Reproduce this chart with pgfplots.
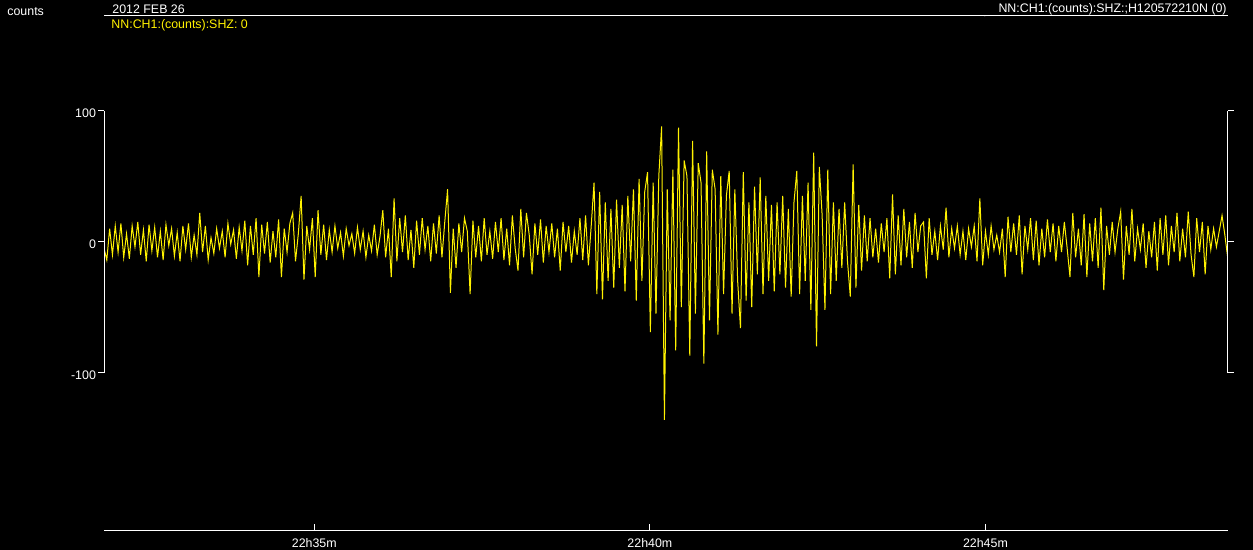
\documentclass[border=0pt]{standalone}
\usepackage{pgfplots}
\usepackage{pgfplotstable}
\pgfplotsset{compat=1.18}
\usepackage{fontspec}
\setmainfont{Liberation Sans}
\pgfplotstableread[header=false,row sep=\\]{
-5\\ -14\\ 10\\ -10\\ 12\\ -8\\ 14\\ -12\\ 6\\ -13\\ 12\\ -4\\ 15\\ -10\\ 9\\ -15\\ 13\\ -7\\ 11\\ -12\\
8\\ -14\\ 13\\ -3\\ 10\\ -11\\ 7\\ -15\\ 12\\ -6\\ 14\\ -12\\ 5\\ -10\\ 22\\ -8\\ 12\\ -14\\ 3\\ -9\\
10\\ -5\\ 8\\ -12\\ 14\\ -2\\ 9\\ -13\\ 11\\ -7\\ 16\\ -18\\ 12\\ -10\\ 18\\ -27\\ 13\\ -9\\ 15\\ -16\\
8\\ -12\\ 17\\ -27\\ 10\\ -8\\ 14\\ 22\\ -15\\ 6\\ 35\\ -29\\ 12\\ -6\\ 18\\ -27\\ 24\\ -10\\ 13\\ -14\\
9\\ -8\\ 12\\ -5\\ 7\\ -11\\ 10\\ -3\\ 6\\ -9\\ 11\\ -6\\ 8\\ -12\\ 5\\ -7\\ 13\\ -10\\ 4\\ 24\\
-12\\ 10\\ -27\\ 33\\ -15\\ 18\\ -8\\ 20\\ -14\\ 9\\ -20\\ 16\\ -10\\ 18\\ -6\\ 12\\ -15\\ 14\\ -9\\ 20\\
-12\\ 15\\ 40\\ -39\\ 10\\ -20\\ 14\\ -8\\ 18\\ 8\\ -40\\ 16\\ -12\\ 12\\ -15\\ 18\\ -10\\ 8\\ -13\\ 15\\
-8\\ 18\\ -14\\ 10\\ -18\\ 20\\ -5\\ -22\\ 25\\ -12\\ 22\\ 5\\ -25\\ 14\\ -10\\ 17\\ -16\\ 12\\ -8\\ 14\\
-12\\ 10\\ -22\\ 15\\ -8\\ 12\\ -16\\ 8\\ -10\\ 18\\ -14\\ 20\\ -18\\ 12\\ 45\\ -40\\ 38\\ -44\\ 30\\ -30\\
25\\ -35\\ 32\\ -20\\ 28\\ -38\\ 35\\ -15\\ 40\\ -45\\ 48\\ -30\\ 38\\ 53\\ -69\\ 45\\ -55\\ 50\\ 88\\ -136\\
40\\ -60\\ 55\\ -83\\ 87\\ -50\\ 62\\ 50\\ -87\\ 77\\ -55\\ 60\\ 45\\ -93\\ 69\\ -60\\ 55\\ 40\\ -71\\ 50\\
-40\\ 35\\ 54\\ -55\\ 40\\ -30\\ -66\\ 53\\ -45\\ 30\\ -50\\ 42\\ -25\\ 49\\ -40\\ 35\\ -30\\ 28\\ -38\\ 30\\
-25\\ 35\\ -35\\ 25\\ -42\\ 30\\ 54\\ -40\\ 35\\ -30\\ 45\\ -52\\ 68\\ -80\\ 57\\ 20\\ -52\\ 55\\ -40\\ 30\\
-30\\ 25\\ -20\\ 30\\ -15\\ -42\\ 59\\ -35\\ 28\\ -22\\ 20\\ -15\\ 18\\ -12\\ 10\\ -16\\ 14\\ -8\\ 18\\ -28\\
36\\ -25\\ 20\\ -18\\ 25\\ -12\\ 15\\ -20\\ 22\\ -8\\ 12\\ 15\\ -28\\ 18\\ -10\\ 8\\ -14\\ 12\\ -6\\ 26\\
-12\\ 10\\ -5\\ 12\\ -10\\ 8\\ -14\\ 10\\ -4\\ 12\\ -15\\ 33\\ -18\\ 8\\ -10\\ 12\\ -6\\ 5\\ -8\\ 10\\
-27\\ 19\\ -8\\ 14\\ -10\\ 20\\ -25\\ 12\\ -6\\ 18\\ -14\\ 16\\ -18\\ 10\\ -12\\ 17\\ -8\\ 14\\ -15\\ 12\\
-8\\ 15\\ -5\\ -27\\ 22\\ -12\\ 10\\ -18\\ 21\\ -27\\ 14\\ -15\\ 18\\ -20\\ 26\\ -37\\ 12\\ -10\\ 15\\ -8\\
10\\ 23\\ -29\\ 12\\ -10\\ 25\\ -15\\ 10\\ -6\\ 14\\ -20\\ 8\\ -12\\ 15\\ -22\\ 18\\ -10\\ 20\\ -18\\ 12\\
-8\\ 22\\ -15\\ 10\\ -12\\ 23\\ -10\\ -27\\ 18\\ -8\\ 15\\ -25\\ 12\\ -6\\ 10\\ -4\\ 8\\ 20\\ 5\\ -12\\
}\trace
\begin{document}
\begin{tikzpicture}[x=1pt,y=1pt]
\fill[black] (0,0) rectangle (626.5,275);
\useasboundingbox (0,0) rectangle (626.5,275);
\begin{axis}[at={(52pt,9.85pt)}, anchor=south west, scale only axis,
  width=561.75pt, height=257.3pt,
  xmin=31.866, xmax=48.607, ymin=-220.3, ymax=172.5,
  separate axis lines, axis x line=box, axis y line=none,
  xtick={35,40,45}, xticklabels={22h35m,22h40m,22h45m},
  xtick pos=left, tick align=inside, major tick length=3pt, ytick=\empty,
  axis line style={white, line width=0.5pt},
  tick style={white, line width=0.5pt},
  xticklabel style={text=white, font=\fontsize{6.2}{7}\selectfont, yshift=-0.6pt}]
\addplot[yellow, line width=0.5pt, line join=miter] table[x expr={31.866+0.041964*\coordindex}, y index=0] {\trace};
\draw[white, line width=0.5pt] (axis cs:45,172.5) -- ++(0,-1.7pt);
\draw[white, line width=0.5pt] (axis cs:31.866,172.5) -- ++(0,1.8pt);
\end{axis}
\begin{axis}[at={(52pt,88.65pt)}, anchor=south west, scale only axis,
  width=561.75pt, height=131pt,
  xmin=0, xmax=1, ymin=-100, ymax=100,
  separate axis lines, axis x line=none, axis y line=box,
  ytick={-100,0,100}, yticklabels={-100,0,100}, xtick=\empty, ytick pos=both, yticklabel pos=left,
  tick align=outside, major tick length=3pt,
  axis line style={white, line width=0.5pt},
  tick style={white, line width=0.5pt},
  yticklabel style={text=white, font=\fontsize{6.2}{7}\selectfont, xshift=2.5pt, yshift=-1.2pt}]
\end{axis}
\node[anchor=west, inner sep=0, text=white, font=\fontsize{6.2}{7}\selectfont] at (3.5,269) {counts};
\node[anchor=west, inner sep=0, text=white, font=\fontsize{6.2}{7}\selectfont] at (56,270.5) {2012 FEB 26};
\node[anchor=west, inner sep=0, text=yellow, font=\fontsize{6.2}{7}\selectfont] at (55.5,262.5) {NN:CH1:(counts):SHZ: 0};
\node[anchor=east, inner sep=0, text=white, font=\fontsize{6.2}{7}\selectfont] at (613.5,270.3) {NN:CH1:(counts):SHZ:;H120572210N (0)};
\end{tikzpicture}
\end{document}
